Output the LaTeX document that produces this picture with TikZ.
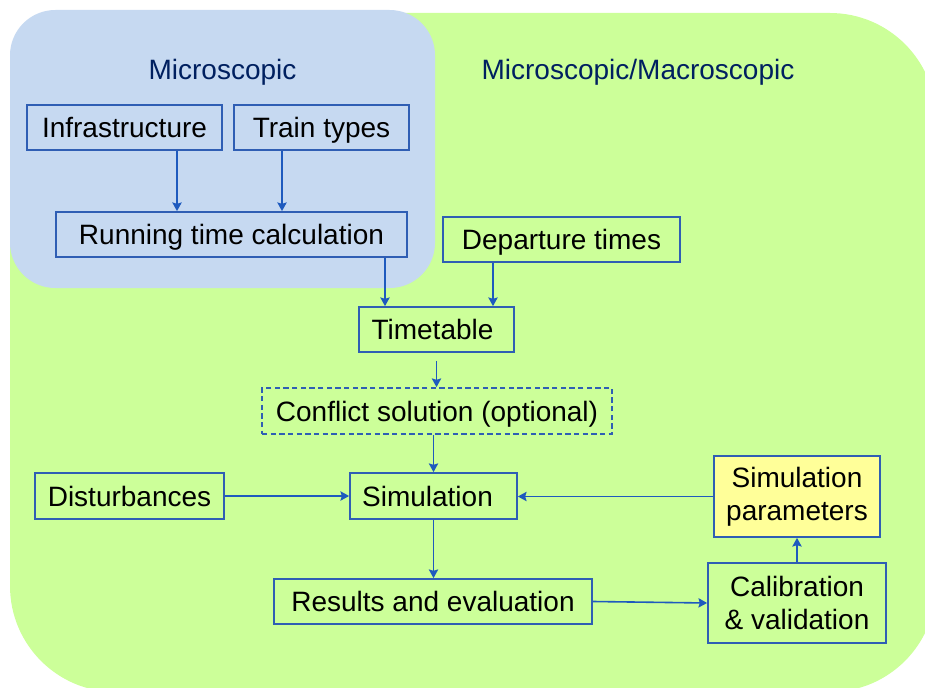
\documentclass[tikz,border=0pt]{standalone}
\usepackage{fontspec}
\setmainfont{Liberation Sans}
\usetikzlibrary{arrows.meta,calc}
\definecolor{greenbg}{RGB}{204,255,153}
\definecolor{bluebg}{RGB}{198,217,241}
\definecolor{yellowbg}{RGB}{255,255,153}
\definecolor{boxblue}{RGB}{47,94,180}
\definecolor{arrowblue}{RGB}{30,90,190}
\definecolor{navy}{RGB}{0,32,96}
\begin{document}
\begin{tikzpicture}[x=0.75pt,y=-0.75pt,
  font=\fontsize{21}{25}\selectfont,
  boxbase/.style={draw=boxblue, line width=1.3pt, rectangle, inner sep=0pt},
  box/.style={boxbase, text height=15pt, text depth=0pt},
  box2/.style={boxbase, align=center},
  arr/.style={draw=arrowblue, line width=1.2pt, -{Stealth[length=6.5pt,width=7pt,inset=1pt]}},
  title/.style={anchor=base, text=navy, inner sep=0pt}]
\useasboundingbox (0,0) rectangle (925,688);
\begin{scope}
\clip (0,0) rectangle (925,688);
\fill[greenbg, rounded corners=79.5pt] (10,13) rectangle (936,692);
\fill[bluebg, rounded corners=34pt] (10,10) rectangle (435,288);
\end{scope}

\node[title] (tmic) at (222.5,80) {Microscopic};
\node[title] (tmac) at (638,80) {Microscopic/Macroscopic};

\node[box, minimum width=146.25pt, minimum height=33.75pt] (infra) at (124.5,127.5) {Infrastructure};
\node[box, minimum width=131.25pt, minimum height=33.75pt] (train) at (321.5,127.5) {Train types};
\node[box, minimum width=263.25pt, minimum height=33.75pt] (running) at (231.5,234.5) {Running time calculation};
\node[box, minimum width=177.75pt, minimum height=33.75pt] (depart) at (561.5,239.5) {Departure times};
\node[box, minimum width=116.25pt, minimum height=33.75pt] (timetable) at (436.5,329.5) {Timetable\kern6pt};
\node[box, dash pattern=on 4pt off 2.5pt, minimum width=262.5pt, minimum height=34.5pt] (conflict) at (437,411) {Conflict solution (optional)};
\node[box, minimum width=141.75pt, minimum height=34.5pt] (disturb) at (129.5,496) {Disturbances};
\node[box, minimum width=125.25pt, minimum height=34.5pt] (sim) at (433.5,496) {Simulation\kern9pt};
\node[box2, fill=yellowbg, minimum width=124.5pt, minimum height=60.75pt] (simparam) at (797,496.5) {Simulation\\parameters};
\node[box2, minimum width=133.5pt, minimum height=60pt] (calib) at (797,603) {Calibration\\\& validation};
\node[box, minimum width=238.5pt, minimum height=33.75pt] (results) at (433,601.5) {Results and evaluation};

\path ($(infra.south)+(52.5,0)$) coordinate (a1);
\draw[arr] (a1) -- (a1 |- running.north);
\path ($(train.south)+(-39.5,0)$) coordinate (a2);
\draw[arr] (a2) -- (a2 |- running.north);
\path ($(running.south)+(153.5,0)$) coordinate (a3);
\draw[arr] (a3) -- (a3 |- timetable.north);
\path ($(depart.south)+(-68.5,0)$) coordinate (a4);
\draw[arr] (a4) -- (a4 |- timetable.north);
\path ($(timetable.south)+(0,8)$) coordinate (a5);
\draw[arr] (a5) -- (a5 |- conflict.north);
\draw[arr] (conflict.south -| sim.north) -- (sim.north);
\draw[arr] (disturb.east) -- (sim.west);
\draw[arr] (simparam.west) -- (simparam.west -| sim.east);
\draw[arr] (sim.south) -- (sim.south |- results.north);
\draw[arr] (results.east) -- (calib.west);
\draw[arr] (calib.north) -- (simparam.south);
\end{tikzpicture}
\end{document}
